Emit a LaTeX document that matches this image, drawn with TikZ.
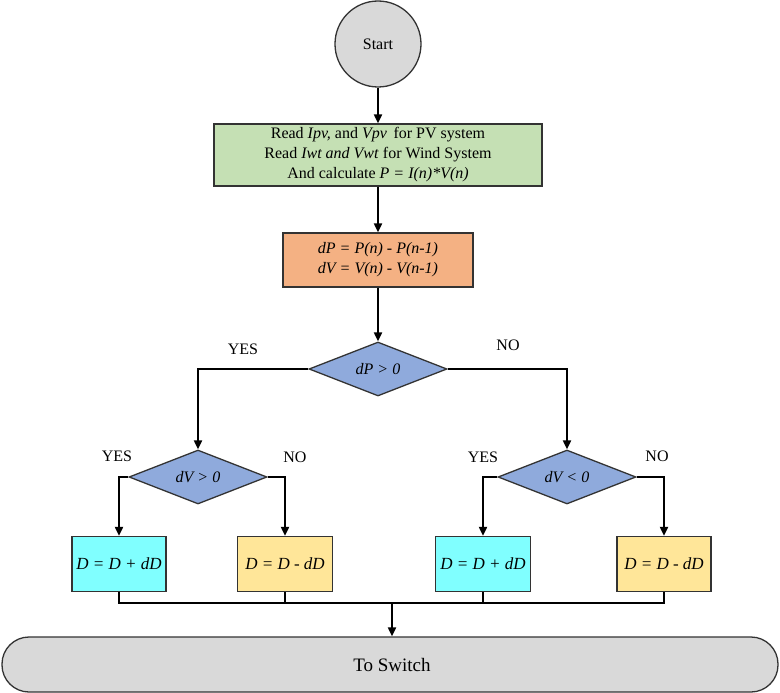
\documentclass[tikz,border=0pt]{standalone}
\usepackage{fontspec}
\setmainfont{Liberation Serif}
\usetikzlibrary{shapes.geometric,arrows.meta}
\definecolor{cgray}{HTML}{D9D9D9}
\definecolor{cgreen}{HTML}{C5E0B4}
\definecolor{corange}{HTML}{F4B183}
\definecolor{cblue}{HTML}{8FAADC}
\definecolor{ccyan}{HTML}{80FFFF}
\definecolor{cyellow}{HTML}{FFE699}
\definecolor{cedge}{HTML}{333333}
\tikzset{
  box/.style={draw=cedge, line width=1.3pt, rectangle, inner sep=0pt, align=center, font=\fontsize{16}{20}\selectfont},
  dec/.style={draw=cedge, line width=1.3pt, diamond, aspect=2.5, inner sep=0pt, minimum width=138, minimum height=54, fill=cblue, font=\fontsize{16}{20}\selectfont\itshape},
  lbl/.style={font=\fontsize{16}{20}\selectfont, inner sep=0pt},
  conn/.style={line width=2pt, draw=black},
  arr/.style={conn, -{Triangle[length=9pt,width=8pt]}}
}
\begin{document}
\begin{tikzpicture}[x=1pt,y=-1pt]
\useasboundingbox (0,0) rectangle (780,693);
\node[circle, draw=cedge, line width=1.3pt, fill=cgray, minimum size=86, inner sep=0pt, font=\fontsize{16}{20}\selectfont] (start) at (378,44) {Start};
\node[box, fill=cgreen, minimum width=328, minimum height=62] (read) at (378,155)
  {Read \textit{Ipv,} and \textit{Vpv}\, for PV system\\Read \textit{Iwt and Vwt} for Wind System\\And calculate \textit{P = I(n)*V(n)}};
\node[box, fill=corange, minimum width=190, minimum height=54] (calc) at (378,260)
  {\textit{dP = P(n) - P(n-1)}\\\textit{dV = V(n) - V(n-1)}};
\node[dec] (d1) at (378,369) {dP > 0};
\node[dec] (d2) at (198,477) {dV > 0};
\node[dec] (d3) at (567,477) {dV < 0};
\node[box, fill=ccyan, minimum width=94, minimum height=55, font=\fontsize{17}{20}\selectfont\itshape] (b1) at (119,564) {D = D + dD};
\node[box, fill=cyellow, minimum width=95, minimum height=55, font=\fontsize{17}{20}\selectfont\itshape] (b2) at (285,564) {D = D - dD};
\node[box, fill=ccyan, minimum width=95, minimum height=55, font=\fontsize{17}{20}\selectfont\itshape] (b3) at (483,564) {D = D + dD};
\node[box, fill=cyellow, minimum width=94, minimum height=55, font=\fontsize{17}{20}\selectfont\itshape] (b4) at (664,564) {D = D - dD};
\node[draw=cedge, line width=1.3pt, fill=cgray, rectangle, rounded corners=27, minimum width=776, minimum height=55, inner sep=0pt, font=\fontsize{19}{20}\selectfont] (bar) at (390,664.5) {\hspace{4pt}To Switch};
\node[lbl] (y1) at (243,349) {YES};
\node[lbl] (n1) at (508,345) {NO};
\node[lbl] (y2) at (117,456) {YES};
\node[lbl] (n2) at (295,457) {NO};
\node[lbl] (y3) at (483,457) {YES};
\node[lbl] (n3) at (657,456) {NO};
\coordinate (j) at (392,603);
\draw[arr] (start.south) -- (read.north);
\draw[arr] (read.south) -- (calc.north);
\draw[arr] (calc.south) -- (d1.north);
\draw[arr] (d1.west) -| (d2.north);
\draw[arr] (d1.east) -| (d3.north);
\draw[arr] (d2.west) -| (b1.north);
\draw[arr] (d2.east) -| (b2.north);
\draw[arr] (d3.west) -| (b3.north);
\draw[arr] (d3.east) -| (b4.north);
\draw[conn] (b1.south) |- (j);
\draw[conn] (b4.south) |- (j);
\draw[conn] (b2.south) -- (b2.south |- j);
\draw[conn] (b3.south) -- (b3.south |- j);
\draw[arr] (j) -- (j |- bar.north);
\end{tikzpicture}
\end{document}
